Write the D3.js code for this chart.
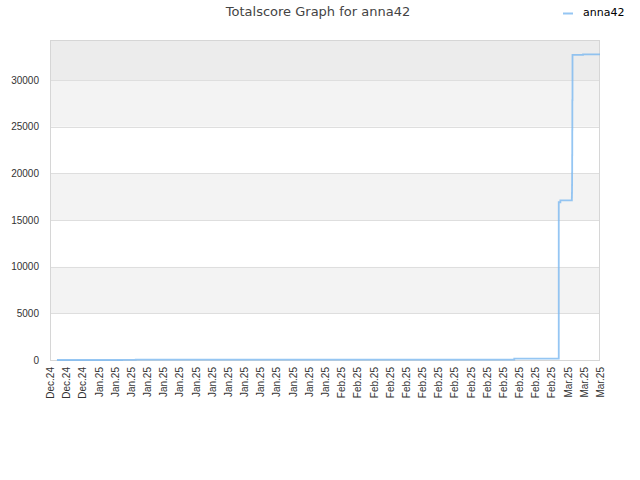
<!DOCTYPE html>
<html>
<head>
<meta charset="utf-8">
<script src="https://cdn.jsdelivr.net/npm/d3@7"></script>
<style>
  body { margin: 0; background: #fff; }
  svg { display: block; font-family: "DejaVu Sans", sans-serif; }
</style>
</head>
<body>
<svg id="chart" width="640" height="480"></svg>
<script>
// tick labels along the x axis (one per slot)
var xLabels = ["Dec.24","Dec.24","Dec.24",
  "Jan.25","Jan.25","Jan.25","Jan.25","Jan.25","Jan.25","Jan.25","Jan.25",
  "Jan.25","Jan.25","Jan.25","Jan.25","Jan.25","Jan.25","Jan.25",
  "Feb.25","Feb.25","Feb.25","Feb.25","Feb.25","Feb.25","Feb.25",
  "Feb.25","Feb.25","Feb.25","Feb.25","Feb.25","Feb.25","Feb.25",
  "Mar.25","Mar.25","Mar.25"];
var yTicks = [0, 5000, 10000, 15000, 20000, 25000, 30000];

// series: position on the label axis, and totalscore
var seriesName = "anna42";
var xPos = [0.43, 4.45, 5.3, 28.7, 31.45, 31.55, 32.26, 32.265, 32.27, 32.275, 32.28,
            32.285, 32.29, 32.3, 32.95, 34];
var scores = [0, 20, 30, 150, 16900, 17100, 17450, 17900, 18750, 20050, 21950,
              24650, 27850, 32700, 32750, 32750];

var margin = {left: 50, right: 40, top: 40, bottom: 120};
var width = 640, height = 480;

var svg = d3.select('#chart');

var x = d3.scaleLinear()
    .domain([0, xLabels.length - 1])
    .range([margin.left, width - margin.right]);

var y = d3.scaleLinear()
    .domain([0, 34286])
    .range([height - margin.bottom, margin.top]);

// alternating bands
var bandEdges = yTicks.concat([y.domain()[1]]);
var bandFill = ["#ffffff", "#f3f3f3", "#ffffff", "#f3f3f3", "#ffffff", "#f3f3f3", "#ececec"];
svg.selectAll("rect.band")
  .data(d3.range(bandEdges.length - 1))
  .enter()
  .append("rect")
    .attr("class", "band")
    .attr("x", margin.left)
    .attr("y", function(i) { return y(bandEdges[i + 1]); })
    .attr("width", width - margin.right - margin.left)
    .attr("height", function(i) { return y(bandEdges[i]) - y(bandEdges[i + 1]); })
    .style("fill", function(i) { return bandFill[i]; });

// grid lines
svg.selectAll("line.grid")
  .data(yTicks.slice(1))
  .enter()
  .append("line")
    .attr("x1", margin.left)
    .attr("x2", width - margin.right)
    .attr("y1", function(d) { return Math.round(y(d)) + 0.5; })
    .attr("y2", function(d) { return Math.round(y(d)) + 0.5; })
    .style("stroke", "#dedede");

// frame
svg.append("rect")
  .attr("x", margin.left + 0.5)
  .attr("y", margin.top + 0.5)
  .attr("width", width - margin.right - margin.left - 1)
  .attr("height", height - margin.bottom - margin.top)
  .style("fill", "none")
  .style("stroke", "#d6d6d6");

// y axis
var yAxis = d3.axisLeft(y).tickValues(yTicks).tickFormat(d3.format("d")).tickSize(0).tickPadding(11);
var gy = svg.append('g')
  .attr('transform', 'translate(' + margin.left + ', 0)')
  .call(yAxis);
gy.select(".domain").remove();
gy.selectAll("text").style("font-size", "10px").style("fill", "#333");

// x axis
var xAxis = d3.axisBottom(x)
  .tickValues(d3.range(xLabels.length))
  .tickFormat(function(i) { return xLabels[i]; })
  .tickSize(0);
var gx = svg.append('g')
  .attr('transform', 'translate(0,' + (height - margin.bottom) + ')')
  .call(xAxis);
gx.select(".domain").remove();
gx.selectAll("text")
  .style("font-size", "10px")
  .style("fill", "#333")
  .attr("text-anchor", "end")
  .attr("transform", "rotate(-90)")
  .attr("x", -7)
  .attr("y", 0)
  .attr("dy", "0.35em");

// the step line
var line = d3.line()
  .x(function(d, i) { return x(xPos[i]); })
  .y(function(d) { return y(d); })
  .curve(d3.curveStepAfter);

svg.append("path")
  .datum(scores)
  .attr("d", line)
  .style("fill", "none")
  .style("stroke", "#7ab8f0")
  .style("stroke-opacity", 0.8)
  .style("stroke-width", 1.8);

// title
svg.append("text")
  .attr("x", 318)
  .attr("y", 16)
  .attr("text-anchor", "middle")
  .style("font-size", "13px")
  .style("fill", "#444")
  .text("Totalscore Graph for " + seriesName);

// legend
svg.append("line")
  .attr("x1", 563).attr("x2", 573)
  .attr("y1", 13.5).attr("y2", 13.5)
  .style("stroke", "#7ab8f0")
  .style("stroke-opacity", 0.8)
  .style("stroke-width", 2);
svg.append("text")
  .attr("x", 583)
  .attr("y", 16)
  .style("font-size", "11px")
  .style("fill", "#000")
  .text(seriesName);
</script>
</body>
</html>
